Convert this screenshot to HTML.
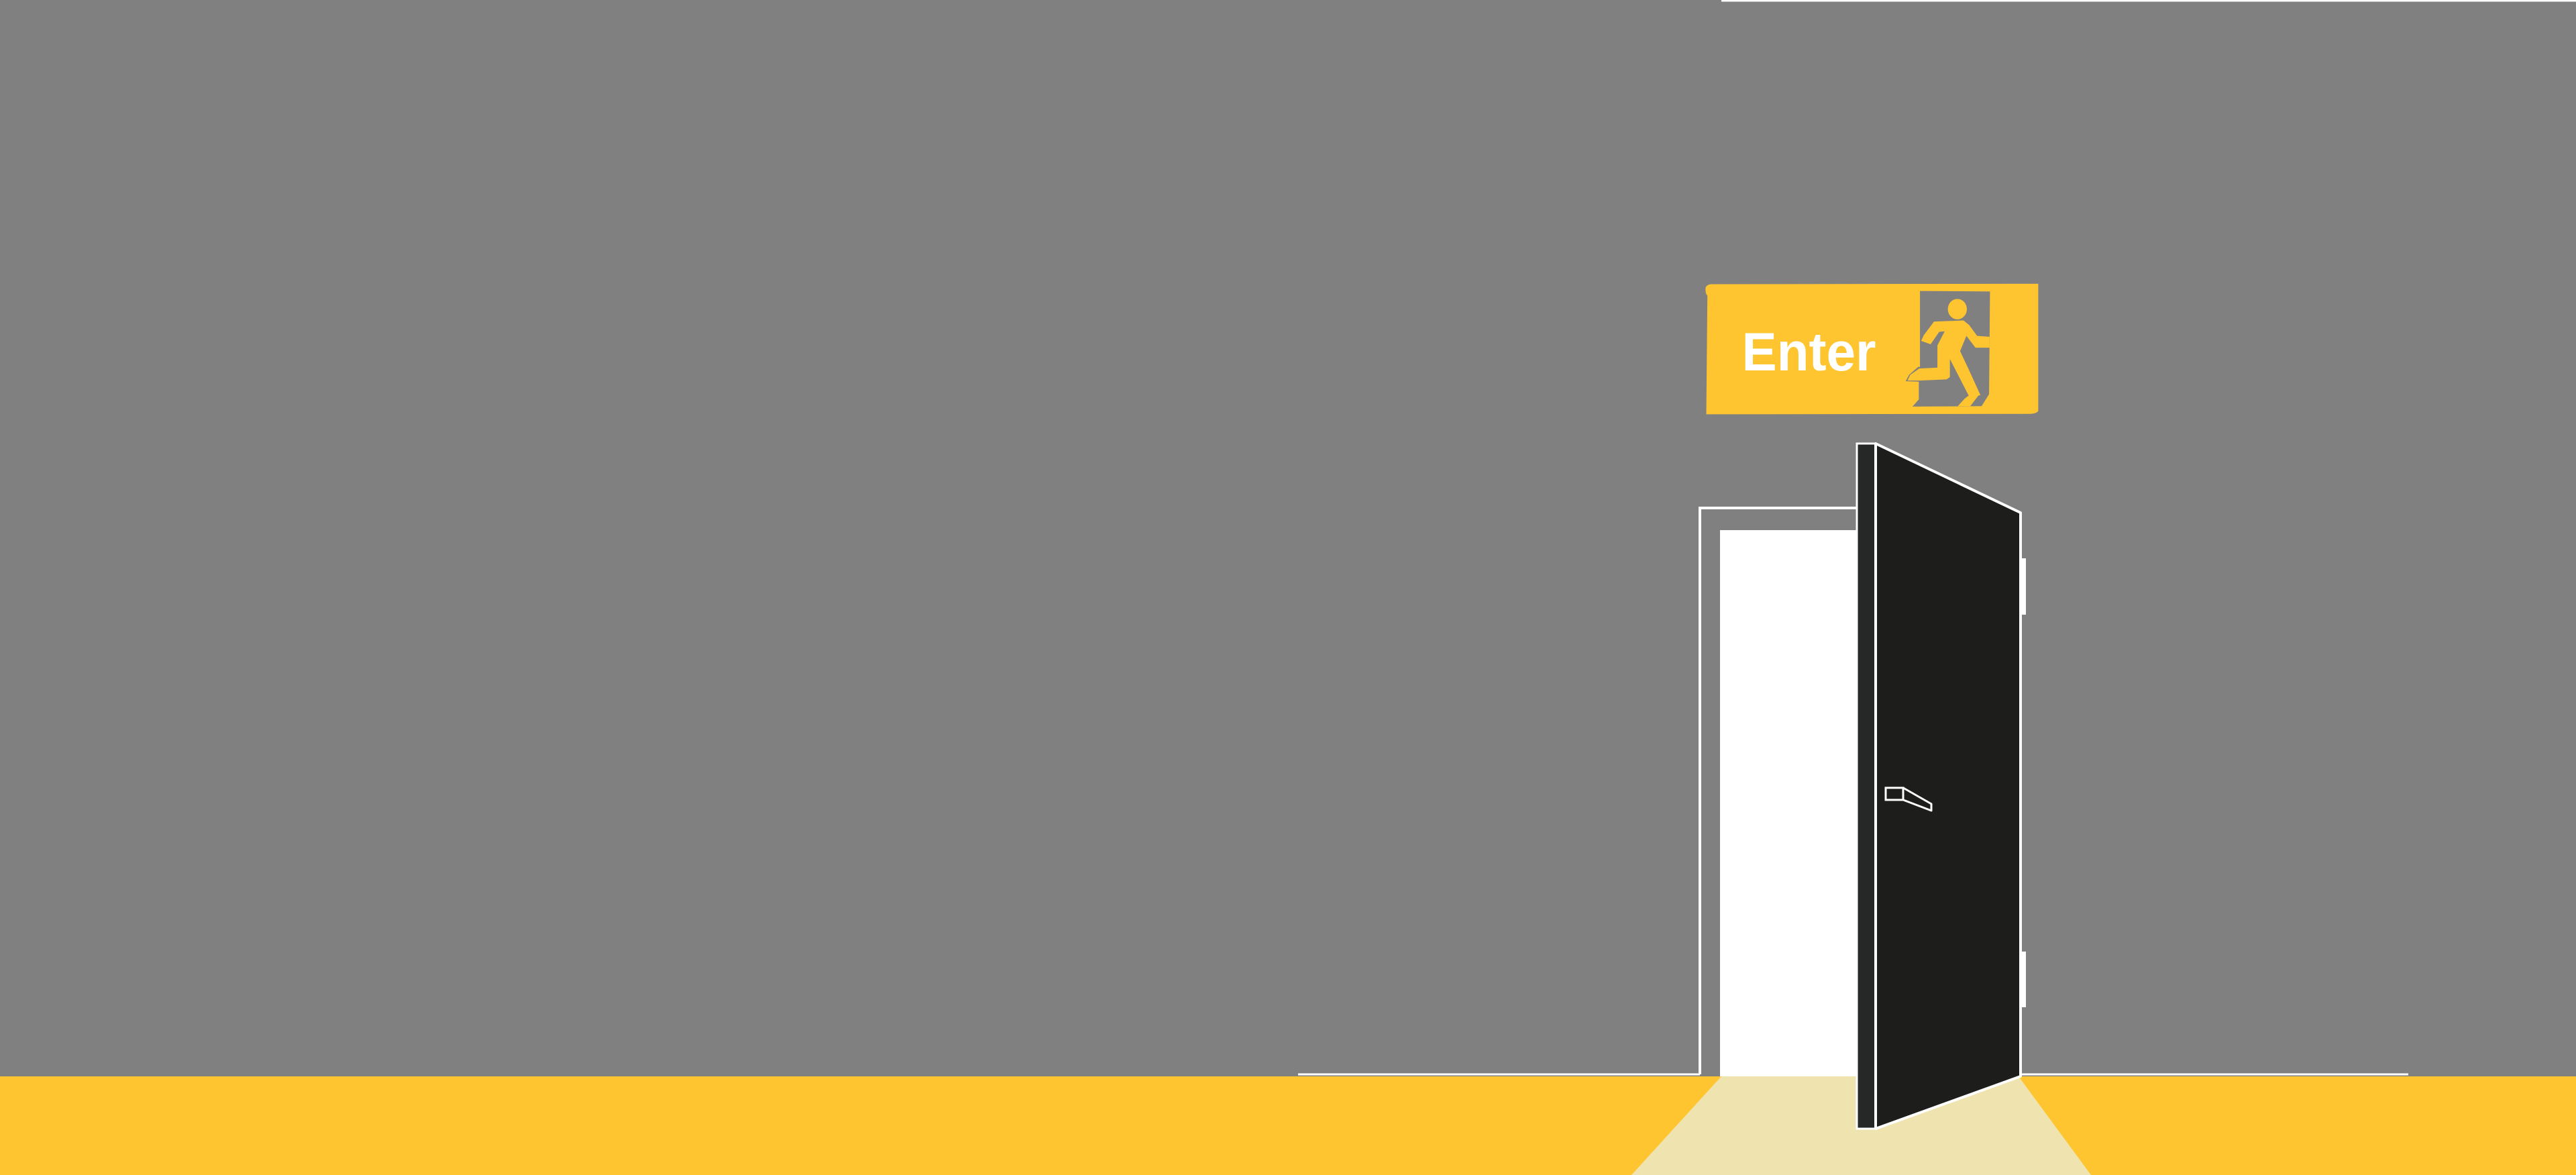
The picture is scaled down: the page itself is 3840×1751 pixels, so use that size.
<!DOCTYPE html>
<html><head><meta charset="utf-8"><style>
html,body{margin:0;padding:0;background:#808080;}
svg{display:block;}
</style></head><body>
<svg width="3840" height="1751" viewBox="0 0 3840 1751" xmlns="http://www.w3.org/2000/svg">
<rect width="3840" height="1751" fill="#808080"/>
<line x1="2566" y1="1" x2="3840" y2="1" stroke="#fff" stroke-width="3"/>
<!-- floor -->
<rect x="0" y="1604" width="3840" height="147" fill="#FEC530"/>
<polygon points="2566,1604 3009,1604 3117,1751 2432,1751" fill="#EFE3B0"/>
<!-- baselines -->
<line x1="1935" y1="1601" x2="2534" y2="1601" stroke="#fff" stroke-width="3"/>
<line x1="3012" y1="1601" x2="3590" y2="1601" stroke="#fff" stroke-width="3"/>
<!-- frame -->
<polyline points="2534,1601 2534,757 2768,757" fill="none" stroke="#fff" stroke-width="4"/>
<rect x="2564" y="790" width="204" height="814" fill="#fff"/>
<!-- door strip -->
<rect x="2768" y="661" width="28" height="1021" fill="#262827" stroke="#fff" stroke-width="3"/>
<!-- door -->
<polygon points="2796,661 3012,764 3012,1604 2796,1682" fill="#1D1D1B" stroke="#fff" stroke-width="4" stroke-linejoin="round"/>
<!-- hinges -->
<rect x="3012" y="832" width="8" height="84" fill="#fff"/>
<rect x="3012" y="1418" width="8" height="83" fill="#fff"/>
<!-- handle -->
<rect x="2811" y="1174" width="26" height="18" fill="none" stroke="#fff" stroke-width="3"/>
<polygon points="2837,1174 2879,1198 2879,1208 2837,1192" fill="none" stroke="#fff" stroke-width="3" stroke-linejoin="round"/>
<!-- sign -->
<g transform="translate(2530,410) scale(0.3378)">
<path d="M60,40 L1505,38 L1505,600 Q1495,612 1470,612 L40,614 L45,90 Q35,82 37,55 Q42,42 60,40 Z" fill="#FEC530"/>
<polygon points="983,70 1292,72 1288,525 1255,578 950,580 978,548 978,470 920,468 935,440 975,405 983,405" fill="#808080"/>
<ellipse cx="1148" cy="150" rx="42" ry="45" fill="#FEC530"/>
<polygon points="1045,205 1175,200 1200,220 1235,268 1290,272 1290,320 1228,320 1188,268 1160,335 1200,420 1250,530 1200,535 1115,370 1115,450 1100,460 980,465 928,465 940,440 980,412 1060,408 1060,310 1092,248 1068,250 1030,305 988,290 1000,265" fill="#FEC530"/>
<polygon points="1200,530 1242,530 1205,578 1150,578 1180,545" fill="#FEC530"/>
<text x="197" y="420" font-family="Liberation Sans, Arial, sans-serif" font-weight="bold" font-size="240" fill="#fff" textLength="592" lengthAdjust="spacingAndGlyphs">Enter</text>
</g>
</svg>
</body></html>
